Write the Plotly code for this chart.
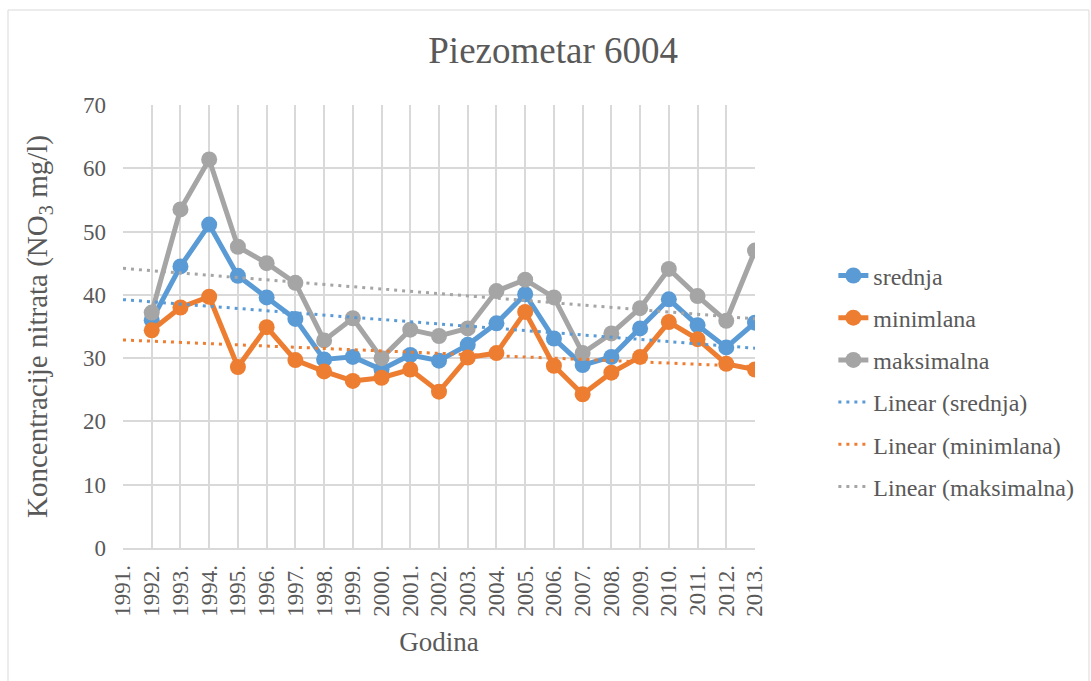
import numpy as np
import plotly.graph_objects as go

years = [f"{y}." for y in range(1991, 2014)]
data_years = years[1:]

srednja = [36.0, 44.5, 51.1, 43.0, 39.6, 36.2, 29.8, 30.2, 28.2, 30.5, 29.6, 32.1,
           35.5, 40.1, 33.1, 28.9, 30.2, 34.7, 39.3, 35.2, 31.7, 35.6]
minimlana = [34.4, 38.0, 39.7, 28.6, 34.9, 29.7, 27.9, 26.4, 26.9, 28.2, 24.7, 30.1,
             30.8, 37.3, 28.8, 24.3, 27.7, 30.2, 35.7, 33.0, 29.1, 28.2]
maksimalna = [37.2, 53.5, 61.4, 47.6, 45.0, 41.9, 32.8, 36.3, 30.0, 34.5, 33.5, 34.7,
              40.6, 42.4, 39.6, 30.8, 33.9, 37.9, 44.1, 39.8, 35.9, 47.0]

names = ["srednja", "minimlana", "maksimalna"]
colors = ["#5B9BD5", "#ED7D31", "#A5A5A5"]
series = [srednja, minimlana, maksimalna]

FONT = "Liberation Serif, Times New Roman, serif"
TXT = "#595959"

fig = go.Figure()
for i, (n, c, s) in enumerate(zip(names, colors, series)):
    fig.add_trace(go.Scatter(
        x=data_years, y=s, name=n, mode="lines+markers",
        line=dict(color=c, width=5), marker=dict(color=c, size=16),
        legendgroup=f"g{i}", legendrank=i + 1,
    ))

idx_all = np.arange(len(years))
idx_data = idx_all[1:]
for i, (n, c, s) in enumerate(zip(names, colors, series)):
    k, b = np.polyfit(idx_data, np.array(s), 1)
    fit = k * idx_all + b
    fig.add_trace(go.Scatter(
        x=years, y=fit, name=f"Linear ({n})", mode="lines",
        line=dict(color=c, width=3, dash="3px,5px"),
        legendgroup=f"t{i}", legendrank=i + 4,
    ))

fig.update_layout(
    width=1091, height=681,
    margin=dict(l=123, r=336, t=105, b=133),
    paper_bgcolor="white", plot_bgcolor="white",
    font=dict(family=FONT, color=TXT, size=22),
    title=dict(text="Piezometar 6004", x=0.507, xanchor="center", y=0.927, yanchor="middle",
               font=dict(family=FONT, size=37, color=TXT)),
    legend=dict(x=1.124, xanchor="left", y=0.665, yanchor="top",
                font=dict(family=FONT, size=24, color=TXT),
                traceorder="grouped", tracegroupgap=8, bgcolor="rgba(0,0,0,0)"),
    showlegend=True,
)
fig.update_xaxes(
    type="category", categoryorder="array", categoryarray=years,
    range=[0, len(years) - 1],
    showgrid=True, gridcolor="#d9d9d9", gridwidth=1.5,
    showline=True, linecolor="#d9d9d9", linewidth=1.5,
    tickangle=-90, tickfont=dict(family=FONT, size=23, color=TXT),
    ticks="", ticklabelstandoff=6,
    title=dict(text="Godina", font=dict(family=FONT, size=27, color=TXT), standoff=16),
)
fig.update_yaxes(
    range=[0, 70], dtick=10, tick0=0,
    showgrid=True, gridcolor="#d9d9d9", gridwidth=1.5,
    zeroline=False, showline=False,
    tickfont=dict(family=FONT, size=23, color=TXT),
    ticks="", ticklabelstandoff=16,
    title=dict(text="Koncentracije nitrata (NO<sub>3</sub> mg/l)",
               font=dict(family=FONT, size=29, color=TXT), standoff=26),
)
fig.add_shape(type="rect", xref="paper", yref="paper",
              x0=(8 - 123) / 632, x1=(1089 - 123) / 632,
              y0=(548 - 700) / 443, y1=(548 - 10) / 443,
              line=dict(color="#d9d9d9", width=1), fillcolor="rgba(0,0,0,0)", layer="below")

fig.write_html("out.html", config={"displayModeBar": False},
               post_script="document.body.style.margin='0';document.body.style.overflow='hidden';")
